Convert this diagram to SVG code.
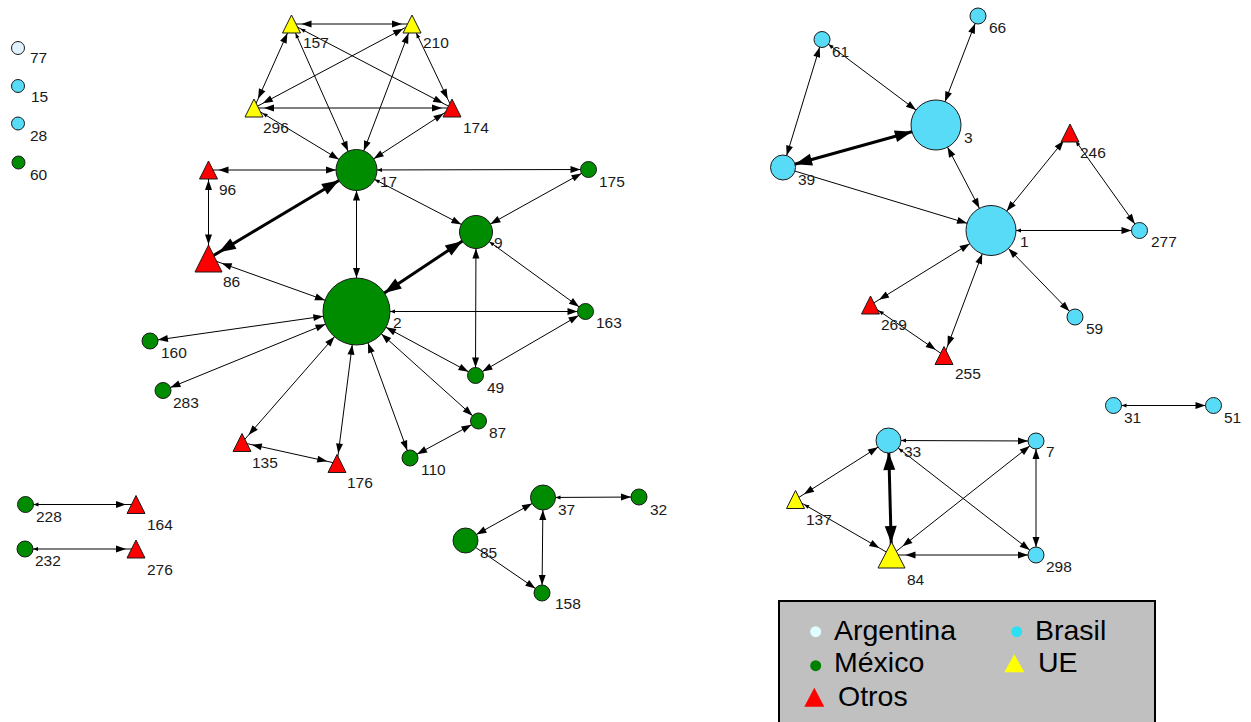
<svg xmlns="http://www.w3.org/2000/svg" width="1251" height="722" viewBox="0 0 1251 722">
<style>
marker{overflow:visible}
.e line{stroke:#000;stroke-width:1}
.e line.t{stroke-width:3}
.g{fill:#008c00;stroke:#1a1a1a;stroke-width:1}
.b{fill:#58dbf7;stroke:#1a1a1a;stroke-width:1}
.a{fill:#e1f2ff;stroke:#1a1a1a;stroke-width:1}
.r{fill:#ff0000;stroke:#1a1a1a;stroke-width:1}
.y{fill:#ffff00;stroke:#1a1a1a;stroke-width:1}
.l{font-family:"Liberation Sans",Arial,sans-serif;font-size:15.5px;fill:#1a1a1a}
.lg{font-family:"Liberation Sans",Arial,sans-serif;font-size:28.5px;fill:#000}
</style>
<defs>
<marker id="n8" markerUnits="userSpaceOnUse" orient="auto-start-reverse" markerWidth="1" markerHeight="1"><path d="M-8,0l-10,-3.5v7z"/></marker>
<marker id="n10" markerUnits="userSpaceOnUse" orient="auto-start-reverse" markerWidth="1" markerHeight="1"><path d="M-10,0l-10,-3.5v7z"/></marker>
<marker id="n12" markerUnits="userSpaceOnUse" orient="auto-start-reverse" markerWidth="1" markerHeight="1"><path d="M-12.5,0l-10,-3.5v7z"/></marker>
<marker id="n14" markerUnits="userSpaceOnUse" orient="auto-start-reverse" markerWidth="1" markerHeight="1"><path d="M-14,0l-10,-3.5v7z"/></marker>
<marker id="n16" markerUnits="userSpaceOnUse" orient="auto-start-reverse" markerWidth="1" markerHeight="1"><path d="M-16.5,0l-10,-3.5v7z"/></marker>
<marker id="n20" markerUnits="userSpaceOnUse" orient="auto-start-reverse" markerWidth="1" markerHeight="1"><path d="M-20.5,0l-10,-3.5v7z"/></marker>
<marker id="n25" markerUnits="userSpaceOnUse" orient="auto-start-reverse" markerWidth="1" markerHeight="1"><path d="M-25,0l-10,-3.5v7z"/></marker>
<marker id="n33" markerUnits="userSpaceOnUse" orient="auto-start-reverse" markerWidth="1" markerHeight="1"><path d="M-33.5,0l-10,-3.5v7z"/></marker>
<marker id="T12" markerUnits="userSpaceOnUse" orient="auto-start-reverse" markerWidth="1" markerHeight="1"><path d="M-12.5,0l-17,-6v12z"/></marker>
<marker id="T14" markerUnits="userSpaceOnUse" orient="auto-start-reverse" markerWidth="1" markerHeight="1"><path d="M-12,0l-17,-6v12z"/></marker>
<marker id="T16" markerUnits="userSpaceOnUse" orient="auto-start-reverse" markerWidth="1" markerHeight="1"><path d="M-16.5,0l-17,-6v12z"/></marker>
<marker id="T20" markerUnits="userSpaceOnUse" orient="auto-start-reverse" markerWidth="1" markerHeight="1"><path d="M-20.5,0l-17,-6v12z"/></marker>
<marker id="T25" markerUnits="userSpaceOnUse" orient="auto-start-reverse" markerWidth="1" markerHeight="1"><path d="M-25,0l-17,-6v12z"/></marker>
<marker id="T33" markerUnits="userSpaceOnUse" orient="auto-start-reverse" markerWidth="1" markerHeight="1"><path d="M-33.5,0l-17,-6v12z"/></marker>
<marker id="k8" markerUnits="userSpaceOnUse" orient="auto-start-reverse" markerWidth="1" markerHeight="1"><path d="M-8,0l-5,-2v4z"/></marker>
<marker id="k10" markerUnits="userSpaceOnUse" orient="auto-start-reverse" markerWidth="1" markerHeight="1"><path d="M-10,0l-5,-2v4z"/></marker>
<marker id="k12" markerUnits="userSpaceOnUse" orient="auto-start-reverse" markerWidth="1" markerHeight="1"><path d="M-12.5,0l-5,-2v4z"/></marker>
<marker id="k16" markerUnits="userSpaceOnUse" orient="auto-start-reverse" markerWidth="1" markerHeight="1"><path d="M-16.5,0l-5,-2v4z"/></marker>
<marker id="k20" markerUnits="userSpaceOnUse" orient="auto-start-reverse" markerWidth="1" markerHeight="1"><path d="M-20.5,0l-5,-2v4z"/></marker>
<marker id="k25" markerUnits="userSpaceOnUse" orient="auto-start-reverse" markerWidth="1" markerHeight="1"><path d="M-25,0l-5,-2v4z"/></marker>
<marker id="k33" markerUnits="userSpaceOnUse" orient="auto-start-reverse" markerWidth="1" markerHeight="1"><path d="M-33.5,0l-5,-2v4z"/></marker>
</defs>
<rect width="1251" height="722" fill="#fff"/>
<g id="connectors" class="e">
<line x1="291.5" y1="24" x2="412" y2="24" marker-start="url(#n10)" marker-end="url(#n10)"/>
<line x1="291.5" y1="24" x2="254" y2="108" marker-start="url(#n10)" marker-end="url(#n10)"/>
<line x1="291.5" y1="24" x2="452" y2="108" marker-start="url(#k10)" marker-end="url(#n10)"/>
<line x1="291.5" y1="24" x2="356.5" y2="170" marker-start="url(#k10)" marker-end="url(#n20)"/>
<line x1="412" y1="24" x2="254" y2="108" marker-start="url(#n10)" marker-end="url(#n10)"/>
<line x1="412" y1="24" x2="452" y2="108" marker-start="url(#k10)" marker-end="url(#n10)"/>
<line x1="412" y1="24" x2="356.5" y2="170" marker-start="url(#n10)" marker-end="url(#n20)"/>
<line x1="254" y1="108" x2="452" y2="108" marker-start="url(#n10)" marker-end="url(#n10)"/>
<line x1="254" y1="108" x2="356.5" y2="170" marker-start="url(#k10)" marker-end="url(#n20)"/>
<line x1="452" y1="108" x2="356.5" y2="170" marker-start="url(#n10)" marker-end="url(#n20)"/>
<line x1="208.5" y1="170" x2="356.5" y2="170" marker-start="url(#n10)" marker-end="url(#n20)"/>
<line x1="208.5" y1="170" x2="208.5" y2="258.5" marker-start="url(#n10)" marker-end="url(#n14)"/>
<line class="t" x1="208.5" y1="258.5" x2="356.5" y2="170" marker-start="url(#T14)" marker-end="url(#T20)"/>
<line x1="208.5" y1="258.5" x2="356.5" y2="311.5" marker-start="url(#n14)" marker-end="url(#n33)"/>
<line x1="356.5" y1="170" x2="356.5" y2="311.5" marker-start="url(#n20)" marker-end="url(#n33)"/>
<line x1="356.5" y1="170" x2="476" y2="232" marker-start="url(#k20)" marker-end="url(#n16)"/>
<line x1="356.5" y1="170" x2="588.5" y2="169.5" marker-start="url(#k20)" marker-end="url(#n8)"/>
<line x1="588.5" y1="169.5" x2="476" y2="232" marker-start="url(#n8)" marker-end="url(#n16)"/>
<line class="t" x1="476" y1="232" x2="356.5" y2="311.5" marker-start="url(#T16)" marker-end="url(#T33)"/>
<line x1="476" y1="232" x2="475.5" y2="375.5" marker-start="url(#n16)" marker-end="url(#n8)"/>
<line x1="476" y1="232" x2="585.5" y2="311.5" marker-start="url(#k16)" marker-end="url(#n8)"/>
<line x1="356.5" y1="311.5" x2="585.5" y2="311.5" marker-start="url(#k33)" marker-end="url(#n8)"/>
<line x1="585.5" y1="311.5" x2="475.5" y2="375.5" marker-start="url(#n8)" marker-end="url(#n8)"/>
<line x1="356.5" y1="311.5" x2="475.5" y2="375.5" marker-start="url(#n33)" marker-end="url(#n8)"/>
<line x1="356.5" y1="311.5" x2="478.5" y2="421" marker-start="url(#n33)" marker-end="url(#n8)"/>
<line x1="478.5" y1="421" x2="410" y2="458" marker-start="url(#n8)" marker-end="url(#n8)"/>
<line x1="356.5" y1="311.5" x2="410" y2="458" marker-start="url(#n33)" marker-end="url(#n8)"/>
<line x1="356.5" y1="311.5" x2="337" y2="463.5" marker-start="url(#n33)" marker-end="url(#n10)"/>
<line x1="356.5" y1="311.5" x2="242" y2="442.5" marker-start="url(#n33)" marker-end="url(#n10)"/>
<line x1="242" y1="442.5" x2="337" y2="463.5" marker-start="url(#n10)" marker-end="url(#n10)"/>
<line x1="356.5" y1="311.5" x2="150" y2="341" marker-start="url(#n33)" marker-end="url(#n8)"/>
<line x1="356.5" y1="311.5" x2="163" y2="390.5" marker-start="url(#n33)" marker-end="url(#n8)"/>
<line x1="543" y1="497.5" x2="639" y2="497" marker-start="url(#k12)" marker-end="url(#n8)"/>
<line x1="543" y1="497.5" x2="465.5" y2="540.5" marker-start="url(#n12)" marker-end="url(#n12)"/>
<line x1="543" y1="497.5" x2="542" y2="593" marker-start="url(#n12)" marker-end="url(#n8)"/>
<line x1="465.5" y1="540.5" x2="542" y2="593" marker-end="url(#n8)"/>
<line x1="25.5" y1="504.5" x2="136" y2="504.5" marker-start="url(#k8)" marker-end="url(#n10)"/>
<line x1="25" y1="549" x2="136" y2="549" marker-start="url(#k8)" marker-end="url(#n10)"/>
<line x1="822" y1="39.5" x2="783" y2="167.5" marker-start="url(#n8)" marker-end="url(#n12)"/>
<line x1="822" y1="39.5" x2="936" y2="125" marker-start="url(#k8)" marker-end="url(#n25)"/>
<line x1="978" y1="16" x2="936" y2="125" marker-start="url(#n8)" marker-end="url(#n25)"/>
<line class="t" x1="783" y1="167.5" x2="936" y2="125" marker-start="url(#T12)" marker-end="url(#T25)"/>
<line x1="783" y1="167.5" x2="991" y2="230.5" marker-end="url(#n25)"/>
<line x1="936" y1="125" x2="991" y2="230.5" marker-start="url(#n25)" marker-end="url(#n25)"/>
<line x1="1070" y1="133" x2="991" y2="230.5" marker-start="url(#n10)" marker-end="url(#n25)"/>
<line x1="1070" y1="133" x2="1139.5" y2="230.5" marker-start="url(#k10)" marker-end="url(#n8)"/>
<line x1="991" y1="230.5" x2="1139.5" y2="230.5" marker-start="url(#k25)" marker-end="url(#n8)"/>
<line x1="991" y1="230.5" x2="1075" y2="317" marker-start="url(#n25)" marker-end="url(#n8)"/>
<line x1="991" y1="230.5" x2="870.5" y2="305" marker-start="url(#n25)" marker-end="url(#n10)"/>
<line x1="991" y1="230.5" x2="944" y2="355.5" marker-start="url(#n25)" marker-end="url(#n10)"/>
<line x1="870.5" y1="305" x2="944" y2="355.5" marker-start="url(#k10)" marker-end="url(#n10)"/>
<line x1="1113.5" y1="405.5" x2="1213.5" y2="405.5" marker-start="url(#k8)" marker-end="url(#n8)"/>
<line x1="888.5" y1="440.5" x2="1036" y2="441" marker-start="url(#k12)" marker-end="url(#n8)"/>
<line x1="888.5" y1="440.5" x2="795.5" y2="499.5" marker-start="url(#n12)" marker-end="url(#n10)"/>
<line class="t" x1="888.5" y1="440.5" x2="891.5" y2="555" marker-start="url(#T12)" marker-end="url(#T14)"/>
<line x1="888.5" y1="440.5" x2="1036" y2="555" marker-start="url(#k12)" marker-end="url(#n8)"/>
<line x1="795.5" y1="499.5" x2="891.5" y2="555" marker-start="url(#k10)" marker-end="url(#n14)"/>
<line x1="1036" y1="441" x2="891.5" y2="555" marker-start="url(#n8)" marker-end="url(#n14)"/>
<line x1="1036" y1="441" x2="1036" y2="555" marker-start="url(#n8)" marker-end="url(#n8)"/>
<line x1="891.5" y1="555" x2="1036" y2="555" marker-start="url(#n14)" marker-end="url(#n8)"/>
</g>
<g id="n77"><circle class="a" cx="18" cy="48" r="6.5"/><text class="l" x="30" y="63">77</text></g>
<g id="n15"><circle class="b" cx="18" cy="86" r="6.5"/><text class="l" x="31" y="102">15</text></g>
<g id="n28"><circle class="b" cx="18" cy="123.5" r="6.5"/><text class="l" x="30" y="141">28</text></g>
<g id="n60"><circle class="g" cx="18.5" cy="162.5" r="6.5"/><text class="l" x="30" y="180">60</text></g>
<g id="n157"><polygon class="y" points="291.5,15 300.5,33 282.5,33"/><text class="l" x="303" y="48">157</text></g>
<g id="n210"><polygon class="y" points="412,15 421,33 403,33"/><text class="l" x="423" y="48">210</text></g>
<g id="n296"><polygon class="y" points="254,99 263,117 245,117"/><text class="l" x="263" y="133">296</text></g>
<g id="n174"><polygon class="r" points="452,99 461,117 443,117"/><text class="l" x="463" y="133">174</text></g>
<g id="n96"><polygon class="r" points="208.5,161 217.5,179 199.5,179"/><text class="l" x="219" y="195">96</text></g>
<g id="n86"><polygon class="r" points="208.5,245 222,272 195,272"/><text class="l" x="223" y="287">86</text></g>
<g id="n17"><circle class="g" cx="356.5" cy="170" r="20.5"/><text class="l" x="380" y="187">17</text></g>
<g id="n9"><circle class="g" cx="476" cy="232" r="16.5"/><text class="l" x="494" y="248">9</text></g>
<g id="n175"><circle class="g" cx="588.5" cy="169.5" r="8"/><text class="l" x="599" y="187">175</text></g>
<g id="n2"><circle class="g" cx="356.5" cy="311.5" r="33.5"/><text class="l" x="393" y="328">2</text></g>
<g id="n163"><circle class="g" cx="585.5" cy="311.5" r="8"/><text class="l" x="596" y="328">163</text></g>
<g id="n160"><circle class="g" cx="150" cy="341" r="8"/><text class="l" x="161" y="358">160</text></g>
<g id="n283"><circle class="g" cx="163" cy="390.5" r="8"/><text class="l" x="173" y="408">283</text></g>
<g id="n49"><circle class="g" cx="475.5" cy="375.5" r="8"/><text class="l" x="487" y="393">49</text></g>
<g id="n87"><circle class="g" cx="478.5" cy="421" r="8"/><text class="l" x="489" y="438">87</text></g>
<g id="n110"><circle class="g" cx="410" cy="458" r="8"/><text class="l" x="421" y="475">110</text></g>
<g id="n135"><polygon class="r" points="242,433.5 251,451.5 233,451.5"/><text class="l" x="252" y="468">135</text></g>
<g id="n176"><polygon class="r" points="337,454.5 346,472.5 328,472.5"/><text class="l" x="347" y="488">176</text></g>
<g id="n37"><circle class="g" cx="543" cy="497.5" r="12.5"/><text class="l" x="558" y="515">37</text></g>
<g id="n32"><circle class="g" cx="639" cy="497" r="8"/><text class="l" x="650" y="515">32</text></g>
<g id="n85"><circle class="g" cx="465.5" cy="540.5" r="12.5"/><text class="l" x="480" y="558">85</text></g>
<g id="n158"><circle class="g" cx="542" cy="593" r="8"/><text class="l" x="555" y="609">158</text></g>
<g id="n228"><circle class="g" cx="25.5" cy="504.5" r="8"/><text class="l" x="36" y="522">228</text></g>
<g id="n164"><polygon class="r" points="136,495.5 145,513.5 127,513.5"/><text class="l" x="147" y="530">164</text></g>
<g id="n232"><circle class="g" cx="25" cy="549" r="8"/><text class="l" x="35" y="566">232</text></g>
<g id="n276"><polygon class="r" points="136,540 145,558 127,558"/><text class="l" x="147" y="575">276</text></g>
<g id="n61"><circle class="b" cx="822" cy="39.5" r="8"/><text class="l" x="832" y="57">61</text></g>
<g id="n66"><circle class="b" cx="978" cy="16" r="8"/><text class="l" x="989" y="33">66</text></g>
<g id="n3"><circle class="b" cx="936" cy="125" r="25"/><text class="l" x="964" y="143">3</text></g>
<g id="n39"><circle class="b" cx="783" cy="167.5" r="12.5"/><text class="l" x="798" y="185">39</text></g>
<g id="n1"><circle class="b" cx="991" cy="230.5" r="25"/><text class="l" x="1020" y="247">1</text></g>
<g id="n246"><polygon class="r" points="1070,124 1079,142 1061,142"/><text class="l" x="1080" y="158">246</text></g>
<g id="n277"><circle class="b" cx="1139.5" cy="230.5" r="8"/><text class="l" x="1151" y="247">277</text></g>
<g id="n59"><circle class="b" cx="1075" cy="317" r="8"/><text class="l" x="1086" y="334">59</text></g>
<g id="n269"><polygon class="r" points="870.5,296 879.5,314 861.5,314"/><text class="l" x="881" y="330">269</text></g>
<g id="n255"><polygon class="r" points="944,346.5 953,364.5 935,364.5"/><text class="l" x="955" y="379">255</text></g>
<g id="n31"><circle class="b" cx="1113.5" cy="405.5" r="8"/><text class="l" x="1124" y="423">31</text></g>
<g id="n51"><circle class="b" cx="1213.5" cy="405.5" r="8"/><text class="l" x="1224" y="423">51</text></g>
<g id="n33"><circle class="b" cx="888.5" cy="440.5" r="12.5"/><text class="l" x="904" y="457">33</text></g>
<g id="n7"><circle class="b" cx="1036" cy="441" r="8"/><text class="l" x="1046" y="457">7</text></g>
<g id="n137"><polygon class="y" points="795.5,490.5 804.5,508.5 786.5,508.5"/><text class="l" x="806" y="525">137</text></g>
<g id="n84"><polygon class="y" points="891.5,542 905,568 878,568"/><text class="l" x="907" y="585">84</text></g>
<g id="n298"><circle class="b" cx="1036" cy="555" r="8"/><text class="l" x="1046" y="572">298</text></g>
<g id="legend">
<rect x="779" y="601" width="376" height="130" fill="#c0c0c0" stroke="#000" stroke-width="2"/>
<circle cx="815.7" cy="631.7" r="5.5" fill="#e0ffff"/>
<text class="lg" x="834" y="640">Argentina</text>
<circle cx="1016.7" cy="631.7" r="5.5" fill="#2ae0f2"/>
<text class="lg" x="1035" y="640">Brasil</text>
<circle cx="815.7" cy="665.7" r="5.5" fill="#008000"/>
<text class="lg" x="834" y="672">México</text>
<polygon points="1014.3,654.3 1024.3,672.3 1004.3,672.3" fill="#ffff00"/>
<text class="lg" x="1038" y="672">UE</text>
<polygon points="814.3,687.7 824.3,706.7 804.3,706.7" fill="#ff0000"/>
<text class="lg" x="838" y="706">Otros</text>
</g>
</svg>
